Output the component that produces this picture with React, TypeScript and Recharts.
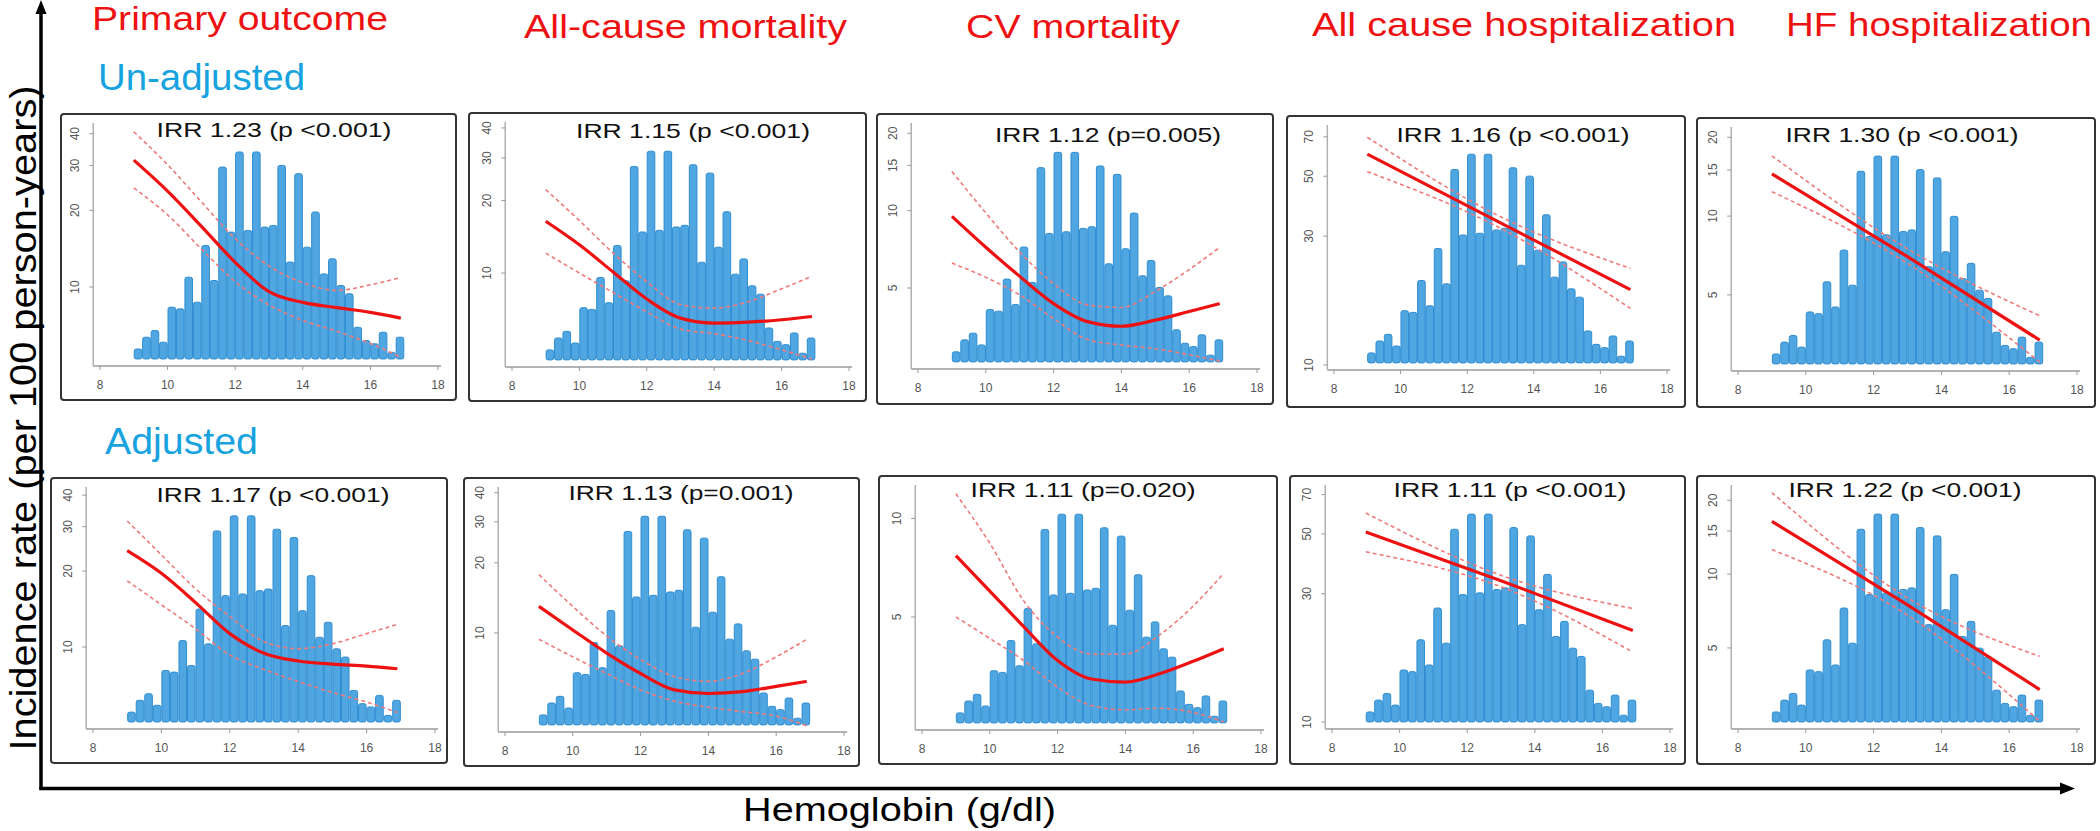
import React from "react";
import { ComposedChart, Bar, Line, XAxis, YAxis } from "recharts";

// Hemoglobin histogram (same cohort in every panel), relative bin height (% of tallest bin)
const hbBins = [9.125, 9.375, 9.625, 9.875, 10.125, 10.375, 10.625, 10.875, 11.125, 11.375, 11.625, 11.875, 12.125, 12.375, 12.625, 12.875, 13.125, 13.375, 13.625, 13.875, 14.125, 14.375, 14.625, 14.875, 15.125, 15.375, 15.625, 15.875, 16.125, 16.375, 16.625, 16.875];
const hbFreq = [4.8, 10.5, 13.7, 8.1, 25.0, 24.2, 39.5, 27.4, 54.8, 37.9, 92.7, 61.3, 100, 62.1, 100, 63.7, 64.5, 93.5, 46.8, 89.5, 54.0, 71.0, 41.1, 48.4, 35.5, 31.5, 15.3, 8.9, 7.3, 12.9, 3.2, 10.5];

// hemoglobin values where the incidence curves were read
const hbGrid = [9, 10, 11, 12, 13, 14, 15, 16, 16.9];
const hbLinear = [9, 13, 16.9];

const outcomes = ["Primary outcome", "All-cause mortality", "CV mortality", "All cause hospitalization", "HF hospitalization"];

// un-adjusted, incidence rate per 100 person-years
const primaryFit = [31.5, 23.8, 17.3, 12.5, 9.6, 8.7, 8.3, 7.95, 7.55];
const primaryUpper = [40.7, 30.2, 21.6, 15.5, 12.1, 10.4, 9.7, 10.2, 10.9];
const primaryLower = [24.5, 19.2, 14.1, 10.5, 8.5, 7.4, 6.7, 6.0, 5.3];
const allMortFit = [16.4, 13.1, 10.1, 7.8, 6.5, 6.2, 6.25, 6.4, 6.6];
const allMortUpper = [22.2, 16.5, 12.1, 9.2, 7.4, 7.15, 7.6, 8.6, 9.7];
const allMortLower = [12.1, 10.0, 8.3, 6.9, 5.85, 5.6, 5.25, 4.8, 4.4];
const cvMortFit = [9.5, 7.2, 5.55, 4.35, 3.7, 3.55, 3.75, 4.05, 4.35];
const cvMortUpper = [14.2, 9.8, 6.9, 5.2, 4.3, 4.2, 4.85, 5.9, 7.2];
const cvMortLower = [6.25, 5.5, 4.7, 3.8, 3.15, 3.0, 2.9, 2.75, 2.6];
const allHospFit = [60.4, 33.6, 19.0];
const allHospUpper = [69.7, 35.4, 22.8];
const allHospLower = [52.0, 32.1, 16.2];
const hfHospFit = [14.5, 7.0, 3.36];
const hfHospUpper = [17.0, 7.5, 4.16];
const hfHospLower = [12.4, 6.6, 2.77];

// adjusted
const primaryAdjFit = [24.1, 19.6, 15.0, 11.3, 9.45, 8.8, 8.55, 8.4, 8.2];
const primaryAdjUpper = [31.6, 23.2, 17.0, 13.2, 10.5, 9.85, 10.3, 11.3, 12.3];
const primaryAdjLower = [18.3, 14.7, 11.8, 9.3, 8.15, 7.3, 6.6, 6.05, 5.5];
const allMortAdjFit = [13.0, 10.3, 8.2, 6.7, 5.7, 5.5, 5.6, 5.9, 6.2];
const allMortAdjUpper = [17.8, 13.0, 9.7, 7.7, 6.5, 6.2, 6.7, 7.9, 9.4];
const allMortAdjLower = [9.4, 7.9, 6.7, 5.7, 5.1, 4.8, 4.6, 4.4, 4.0];
const cvMortAdjFit = [7.7, 6.0, 4.67, 3.68, 3.23, 3.16, 3.35, 3.66, 4.0];
const cvMortAdjUpper = [11.9, 8.4, 5.6, 4.34, 3.85, 3.85, 4.4, 5.4, 6.8];
const cvMortAdjLower = [5.0, 4.3, 3.68, 3.05, 2.68, 2.6, 2.63, 2.55, 2.39];
const allHospAdjFit = [50.8, 33.5, 21.9];
const allHospAdjUpper = [59.8, 35.1, 26.4];
const allHospAdjLower = [42.9, 31.8, 18.2];
const hfHospAdjFit = [16.4, 7.5, 3.38];
const hfHospAdjUpper = [21.5, 8.0, 4.62];
const hfHospAdjLower = [12.6, 6.8, 2.51];

const irrUnadj = ["IRR 1.23 (p <0.001)", "IRR 1.15 (p <0.001)", "IRR 1.12 (p=0.005)", "IRR 1.16 (p <0.001)", "IRR 1.30 (p <0.001)"];
const irrAdj = ["IRR 1.17 (p <0.001)", "IRR 1.13 (p=0.001)", "IRR 1.11 (p=0.020)", "IRR 1.11 (p <0.001)", "IRR 1.22 (p <0.001)"];

const ticks10to40 = [10, 20, 30, 40];
const ticks5to20 = [5, 10, 15, 20];
const ticks10to70 = [10, 30, 50, 70];
const ticks5to10 = [5, 10];
const hbTicks = [8, 10, 12, 14, 16, 18];

const FONT = "'Liberation Sans', Arial, sans-serif";
const RED = "#ee1111";
const BLUE = "#17a2e0";

// panel frames (page pixels)
const boxes = [
  { left: 60, top: 113, w: 397, h: 288, x8: 100, x18: 438, plotTop: 123, plotBottom: 366, irrX: 274, irrY: 137, irrW: 235 },
  { left: 468, top: 112, w: 399, h: 290, x8: 512, x18: 849, plotTop: 122, plotBottom: 367, irrX: 693, irrY: 138, irrW: 234 },
  { left: 876, top: 113, w: 398, h: 292, x8: 918, x18: 1257, plotTop: 123, plotBottom: 369, irrX: 1108, irrY: 142, irrW: 226 },
  { left: 1286, top: 115, w: 400, h: 293, x8: 1334, x18: 1667, plotTop: 125, plotBottom: 370, irrX: 1513, irrY: 142, irrW: 233 },
  { left: 1696, top: 117, w: 400, h: 291, x8: 1738, x18: 2077, plotTop: 127, plotBottom: 371, irrX: 1902, irrY: 142, irrW: 233 },
  { left: 50, top: 477, w: 398, h: 287, x8: 93, x18: 435, plotTop: 487, plotBottom: 729, irrX: 273, irrY: 502, irrW: 233 },
  { left: 463, top: 477, w: 397, h: 290, x8: 505, x18: 844, plotTop: 487, plotBottom: 732, irrX: 681, irrY: 500, irrW: 225 },
  { left: 878, top: 475, w: 400, h: 290, x8: 922, x18: 1261, plotTop: 485, plotBottom: 730, irrX: 1083, irrY: 497, irrW: 225 },
  { left: 1289, top: 475, w: 397, h: 290, x8: 1332, x18: 1670, plotTop: 485, plotBottom: 729, irrX: 1510, irrY: 497, irrW: 233 },
  { left: 1696, top: 475, w: 400, h: 290, x8: 1738, x18: 2077, plotTop: 485, plotBottom: 729, irrX: 1905, irrY: 497, irrW: 233 },
];

const panels = [
  { xs: hbGrid, fit: primaryFit, upper: primaryUpper, lower: primaryLower, domain: [4.896, 44.06], ticks: ticks10to40, irr: irrUnadj[0] },
  { xs: hbGrid, fit: allMortFit, upper: allMortUpper, lower: allMortLower, domain: [4.074, 42.33], ticks: ticks10to40, irr: irrUnadj[1] },
  { xs: hbGrid, fit: cvMortFit, upper: cvMortUpper, lower: cvMortLower, domain: [2.42, 21.93], ticks: ticks5to20, irr: irrUnadj[2] },
  { xs: hbLinear, fit: allHospFit, upper: allHospUpper, lower: allHospLower, domain: [9.58, 77.4], ticks: ticks10to70, irr: irrUnadj[3], linear: true },
  { xs: hbLinear, fit: hfHospFit, upper: hfHospUpper, lower: hfHospLower, domain: [2.56, 21.9], ticks: ticks5to20, irr: irrUnadj[4], linear: true },
  { xs: hbGrid, fit: primaryAdjFit, upper: primaryAdjUpper, lower: primaryAdjLower, domain: [4.73, 43.1], ticks: ticks10to40, irr: irrAdj[0] },
  { xs: hbGrid, fit: allMortAdjFit, upper: allMortAdjUpper, lower: allMortAdjLower, domain: [3.76, 42.3], ticks: ticks10to40, irr: irrAdj[1] },
  { xs: hbGrid, fit: cvMortAdjFit, upper: cvMortAdjUpper, lower: cvMortAdjLower, domain: [2.256, 12.66], ticks: ticks5to10, irr: irrAdj[2] },
  { xs: hbLinear, fit: allHospAdjFit, upper: allHospAdjUpper, lower: allHospAdjLower, domain: [9.42, 76.0], ticks: ticks10to70, irr: irrAdj[3], linear: true },
  { xs: hbLinear, fit: hfHospAdjFit, upper: hfHospAdjUpper, lower: hfHospAdjLower, domain: [2.335, 23.1], ticks: ticks5to20, irr: irrAdj[4], linear: true },
];

const histRows = hbBins.map((hb, i) => ({ hb, freq: hbFreq[i] }));

const RotatedTick = (props: any) => {
  const { x, y, payload } = props;
  return (
    <text
      transform={`translate(${x - 8},${y}) rotate(-90)`}
      textAnchor="middle"
      fontSize={12}
      fill="#555"
      fontFamily={FONT}
    >
      {payload.value}
    </text>
  );
};

// histogram column: keep the library's centre and height, draw a full-bin-width column
const HistBar = (props: any) => {
  const { x, y, width, height } = props;
  if (height == null || height <= 0) return null;
  const cx = x + width / 2;
  return (
    <rect
      x={cx - 3.8}
      y={y}
      width={7.6}
      height={height}
      rx={2}
      fill="#4fa6e0"
      stroke="#2f8dd2"
      strokeWidth={1}
    />
  );
};

function Panel({ box, p }: { box: any; p: any }) {
  const unit = (box.x18 - box.x8) / 10;
  const plotLeft = box.x8 - 0.2 * unit;
  const plotRight = box.x18 + 0.09 * unit;
  const margin = {
    top: box.plotTop - box.top,
    left: 0,
    right: box.left + box.w - plotRight,
    bottom: box.h - (box.plotBottom - box.top) - 30,
  };
  const curve = p.xs.map((hb: number, i: number) => ({
    hb,
    fit: p.fit[i],
    upper: p.upper[i],
    lower: p.lower[i],
  }));
  return (
    <div style={{ position: "absolute", left: box.left, top: box.top, width: box.w, height: box.h }}>
      <ComposedChart width={box.w} height={box.h} data={histRows} margin={margin} barCategoryGap={0} barGap={0}>
        <XAxis
          dataKey="hb"
          type="number"
          domain={[7.8, 18.09]}
          ticks={hbTicks}
          height={30}
          tickSize={4}
          tickMargin={10}
          axisLine={{ stroke: "#9a9a9a", strokeWidth: 1.5 }}
          tickLine={{ stroke: "#9a9a9a" }}
          tick={{ fontSize: 12, fill: "#555", fontFamily: FONT }}
        />
        <YAxis
          yAxisId="rate"
          type="number"
          scale="log"
          domain={p.domain}
          allowDataOverflow
          ticks={p.ticks}
          width={plotLeft - box.left}
          tickSize={4}
          tickMargin={2}
          axisLine={{ stroke: "#b0b0b0", strokeWidth: 1.5 }}
          tickLine={{ stroke: "#9a9a9a" }}
          tick={<RotatedTick />}
        />
        <YAxis yAxisId="count" orientation="right" type="number" domain={[-3.4, 114]} hide />
        <Bar
          yAxisId="count"
          dataKey="freq"
          shape={<HistBar />}
          isAnimationActive={false}
        />
        <Line
          yAxisId="rate"
          data={curve}
          dataKey="upper"
          type="monotone"
          stroke="#f07a7a"
          strokeWidth={1.6}
          strokeDasharray="4 3"
          dot={false}
          isAnimationActive={false}
        />
        <Line
          yAxisId="rate"
          data={curve}
          dataKey="lower"
          type="monotone"
          stroke="#f07a7a"
          strokeWidth={1.6}
          strokeDasharray="4 3"
          dot={false}
          isAnimationActive={false}
        />
        <Line
          yAxisId="rate"
          data={curve}
          dataKey="fit"
          type={p.linear ? "linear" : "monotone"}
          stroke={RED}
          strokeWidth={3.2}
          dot={false}
          isAnimationActive={false}
        />
      </ComposedChart>
      <div
        style={{
          position: "absolute",
          left: 0,
          top: 0,
          width: box.w,
          height: box.h,
          boxSizing: "border-box",
          border: "2.5px solid #333",
          borderRadius: 4,
          pointerEvents: "none",
        }}
      />
    </div>
  );
}

const titleSpots = [
  { x: 92, y: 30, w: 296 },
  { x: 524, y: 38, w: 323 },
  { x: 966, y: 38, w: 214 },
  { x: 1312, y: 36, w: 424 },
  { x: 1786, y: 36, w: 306 },
];

export default function App() {
  return (
    <div style={{ position: "absolute", left: 0, top: 0, width: 2100, height: 831, background: "#fff", overflow: "hidden" }}>
      {boxes.map((box, i) => (
        <Panel key={i} box={box} p={panels[i]} />
      ))}
      <svg width={2100} height={831} style={{ position: "absolute", left: 0, top: 0, pointerEvents: "none" }}>
        {outcomes.map((t, i) => (
          <text
            key={t}
            x={titleSpots[i].x}
            y={titleSpots[i].y}
            fontSize={33}
            fill={RED}
            fontFamily={FONT}
            textLength={titleSpots[i].w}
            lengthAdjust="spacingAndGlyphs"
          >
            {t}
          </text>
        ))}
        <text x={98} y={90} fontSize={36} fill={BLUE} fontFamily={FONT} textLength={207} lengthAdjust="spacingAndGlyphs">
          Un-adjusted
        </text>
        <text x={105} y={454} fontSize={36} fill={BLUE} fontFamily={FONT} textLength={153} lengthAdjust="spacingAndGlyphs">
          Adjusted
        </text>
        {boxes.map((box, i) => (
          <text
            key={"irr" + i}
            x={box.irrX - box.irrW / 2}
            y={box.irrY}
            fontSize={21}
            fill="#111"
            fontFamily={FONT}
            textLength={box.irrW}
            lengthAdjust="spacingAndGlyphs"
          >
            {panels[i].irr}
          </text>
        ))}
        <text
          transform="translate(36,418) rotate(-90)"
          textAnchor="middle"
          fontSize={37}
          fill="#000"
          fontFamily={FONT}
          textLength={665}
          lengthAdjust="spacingAndGlyphs"
        >
          Incidence rate (per 100 person-years)
        </text>
        <text x={743} y={821} fontSize={34} fill="#000" fontFamily={FONT} textLength={313} lengthAdjust="spacingAndGlyphs">
          Hemoglobin (g/dl)
        </text>
        <line x1={41} y1={10} x2={41} y2={790} stroke="#000" strokeWidth={3.5} />
        <polygon points="41,0 35.5,14 46.5,14" fill="#000" />
        <line x1={39.5} y1={788.5} x2={2062} y2={788.5} stroke="#000" strokeWidth={3.5} />
        <polygon points="2075,788.5 2060,782.5 2060,794.5" fill="#000" />
      </svg>
    </div>
  );
}
